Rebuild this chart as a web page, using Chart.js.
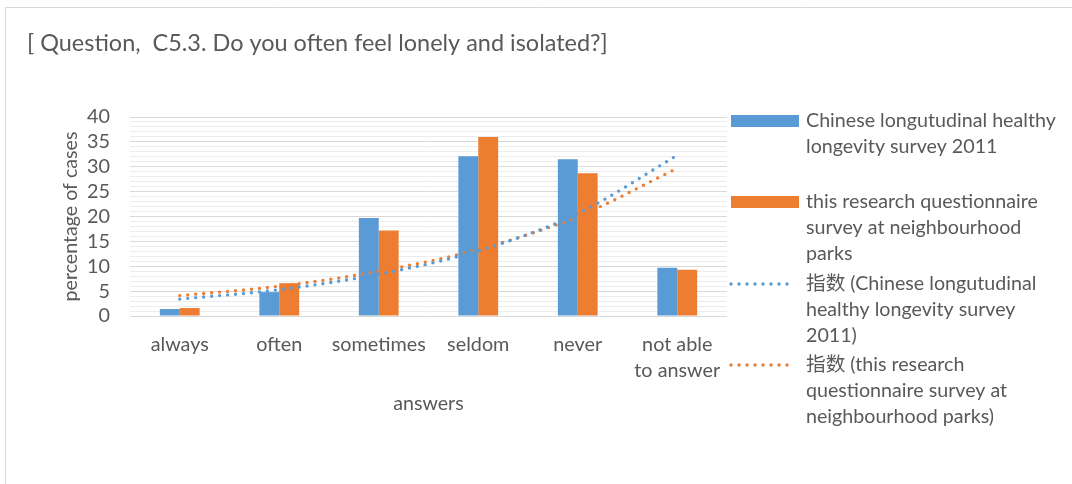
<!DOCTYPE html>
<html><head><meta charset="utf-8">
<script src="https://cdn.jsdelivr.net/npm/chart.js@4/dist/chart.umd.min.js"></script>
<style>html,body{margin:0;padding:0;background:#fff;}canvas{display:block}</style>
</head><body>
<canvas id="c" width="1072" height="484"></canvas>
<script>
// ---- data ----
const categories = [['always'], ['often'], ['sometimes'], ['seldom'], ['never'], ['not able', 'to answer']];
const clhls2011 = [1.4, 4.8, 19.7, 32.1, 31.5, 9.7];
const parkSurvey = [1.6, 6.6, 17.2, 36.0, 28.7, 9.3];
const clhlsTrend = [3.4, 5.3, 8.4, 13.1, 20.6, 32.3];
const parkTrend = [4.1, 6.0, 9.0, 13.4, 20.0, 29.7];
const yMin = 0, yMax = 40, yMajorStep = 5, yMinorStep = 1;
const titleText = '[ Question,  C5.3. Do you often feel lonely and isolated?]';
const xTitle = 'answers';
const yTitle = 'percentage of cases';
const legendLines = [
  ['Chinese longutudinal healthy', 'longevity survey 2011'],
  ['this research questionnaire', 'survey at neighbourhood', 'parks'],
  ['指数 (Chinese longutudinal', 'healthy longevity survey', '2011)'],
  ['指数 (this research', 'questionnaire survey at', 'neighbourhood parks)']
];

// ---- style ----
const BLUE = '#5B9BD5', ORANGE = '#ED7D31', TEXT = '#595959';
const FAMILY = "Lato, 'Noto Sans CJK SC', sans-serif";
const mctx = document.createElement('canvas').getContext('2d');
function fit(text, w) { mctx.font = '100px ' + FAMILY; return 100 * w / mctx.measureText(text).width; }
const titleSize = fit(titleText, 581);
const tickSize = fit('sometimes', 94);
const legendSize = fit('Chinese longutudinal healthy', 250);
const axisTitleSize = fit('percentage of cases', 170);

const dotted = { borderDash: [0, 8], borderCapStyle: 'round', borderWidth: 3.4, pointRadius: 0, fill: false, cubicInterpolationMode: 'monotone' };

const decor = {
  id: 'decor',
  beforeDraw(chart) {
    const c = chart.ctx;
    c.save();
    c.fillStyle = '#fff'; c.fillRect(0, 0, chart.width, chart.height);
    c.strokeStyle = '#d9d9d9'; c.lineWidth = 1;
    c.beginPath(); c.moveTo(5.5, chart.height); c.lineTo(5.5, 7.5); c.lineTo(chart.width, 7.5); c.stroke();
    c.fillStyle = TEXT; c.font = titleSize + 'px ' + FAMILY; c.textBaseline = 'middle'; c.textAlign = 'left';
    c.fillText(titleText, 27, 43);
    c.restore();
  },
  afterDraw(chart) {
    const c = chart.ctx;
    c.save();
    c.font = legendSize + 'px ' + FAMILY; c.fillStyle = TEXT; c.textBaseline = 'middle'; c.textAlign = 'left';
    const firstY = [121, 202, 284, 365];
    const lh = 26;
    legendLines.forEach((lines, i) => {
      const y = firstY[i];
      if (i < 2) {
        c.fillStyle = i === 0 ? BLUE : ORANGE;
        c.fillRect(731, y - 6, 68, 12);
      } else {
        c.strokeStyle = i === 2 ? BLUE : ORANGE;
        c.lineWidth = 3.4; c.lineCap = 'round'; c.setLineDash([0, 8]);
        c.beginPath(); c.moveTo(731, y); c.lineTo(795, y); c.stroke();
        c.setLineDash([]);
      }
      c.fillStyle = TEXT;
      lines.forEach((t, k) => c.fillText(t, 806, y + k * lh));
    });
    c.restore();
  }
};

new Chart(document.getElementById('c'), {
  data: {
    labels: categories,
    datasets: [
      { type: 'line', label: legendLines[2].join(' '), data: clhlsTrend, borderColor: BLUE, order: 0, ...dotted },
      { type: 'line', label: legendLines[3].join(' '), data: parkTrend, borderColor: ORANGE, order: 0, ...dotted },
      { type: 'bar', label: legendLines[0].join(' '), data: clhls2011, backgroundColor: BLUE, order: 1, barPercentage: 1, categoryPercentage: 0.4 },
      { type: 'bar', label: legendLines[1].join(' '), data: parkSurvey, backgroundColor: ORANGE, order: 1, barPercentage: 1, categoryPercentage: 0.4 }
    ]
  },
  options: {
    responsive: false, animation: false, devicePixelRatio: 1,
    layout: { padding: { left: 0, right: 345, top: 117, bottom: 0 } },
    plugins: { legend: { display: false }, tooltip: { enabled: false }, title: { display: false } },
    scales: {
      x: {
        grid: { display: false, drawTicks: false }, border: { display: false },
        ticks: { color: TEXT, font: { family: FAMILY, size: tickSize, lineHeight: '25.5px' }, padding: 16, maxRotation: 0, autoSkip: false },
        title: { display: true, text: xTitle, color: TEXT, font: { family: FAMILY, size: axisTitleSize, lineHeight: 1.2 }, padding: { top: 0, bottom: 69 } },
        afterFit(s) { s.height = 168; }
      },
      y: {
        min: yMin, max: yMax,
        border: { display: false },
        grid: {
          drawTicks: false,
          color: ctx => (ctx.tick && ctx.tick.value % yMajorStep === 0) ? '#d9d9d9' : '#ececec',
          lineWidth: 1
        },
        ticks: {
          stepSize: yMinorStep, autoSkip: false, color: TEXT, padding: 20,
          font: { family: FAMILY, size: tickSize },
          callback: v => (v % yMajorStep === 0 ? String(v) : '')
        },
        title: { display: true, text: yTitle, color: TEXT, font: { family: FAMILY, size: axisTitleSize, lineHeight: 1.2 }, padding: { top: 59, bottom: 0 } },
        afterFit(s) { s.width = 130; }
      }
    }
  },
  plugins: [decor]
});
</script>
</body></html>
